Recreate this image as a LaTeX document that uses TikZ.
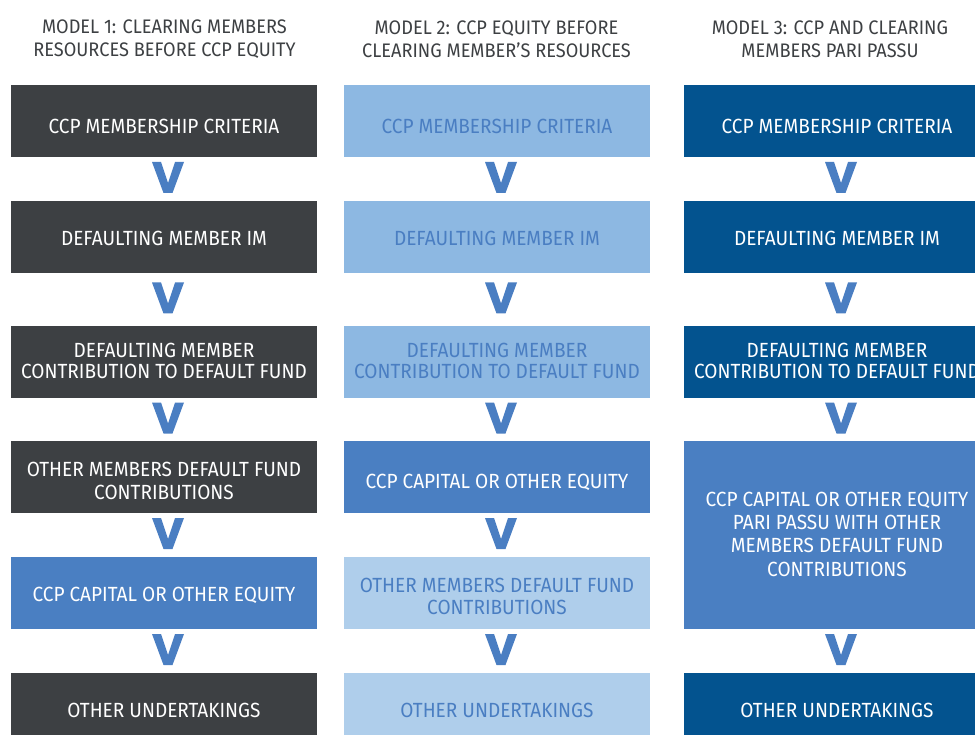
\documentclass[tikz,border=0pt]{standalone}
\usepackage{fontspec}
\setmainfont{Fira Sans}[FakeStretch=0.928]
\usetikzlibrary{calc}
\definecolor{darkgrey}{HTML}{3D4043}
\definecolor{lightblue}{HTML}{8DB8E2}
\definecolor{paleblue}{HTML}{AFCEEB}
\definecolor{midblue}{HTML}{4A7FC2}
\definecolor{navyblue}{HTML}{03538F}
\definecolor{veeblue}{HTML}{4A7EC2}
\tikzset{
  box/.style={minimum width=306pt, minimum height=72pt, inner sep=0pt},
  boxdark/.style={box, fill=darkgrey},
  boxlight/.style={box, fill=lightblue},
  boxpale/.style={box, fill=paleblue},
  boxmid/.style={box, fill=midblue},
  boxnavy/.style={box, fill=navyblue},
  txt/.style={align=center, inner sep=0pt, font=\fontsize{20.5}{21.5}\selectfont},
  wtxt/.style={txt, text=white},
  btxt/.style={txt, text=veeblue},
  header/.style={align=center, text=darkgrey, inner sep=0pt,
     font=\fontsize{19.6}{23}\selectfont},
  vee/.pic={\fill[veeblue] (-16,-15.5) -- (-7,-15.5) -- (0,5.5) -- (7,-15.5) -- (16,-15.5) -- (4.5,15.5) -- (-4.5,15.5) -- cycle;}
}
\begin{document}
\begin{tikzpicture}[x=1pt,y=-1pt]
\useasboundingbox (0,0) rectangle (975,735);
\fill[white] (0,0) rectangle (975,735);
% headers
\node[header] (h1) at (164.5,39) {MODEL 1: CLEARING MEMBERS\\RESOURCES BEFORE CCP EQUITY};
\node[header] (h2) at (496.5,39) {MODEL 2: CCP EQUITY BEFORE\\CLEARING MEMBER'S RESOURCES};
\node[header] (h3) at (830,39) {MODEL 3: CCP AND CLEARING\\MEMBERS PARI PASSU};
% column 1
\node[boxdark] (a1) at (164,121) {};
\node[boxdark] (a2) at (164,237) {};
\node[boxdark] (a3) at (164,362) {};
\node[boxdark] (a4) at (164,477) {};
\node[boxmid]  (a5) at (164,593) {};
\node[boxdark] (a6) at (164,709) {};
\node[wtxt] (a1t) at ([yshift=-5.5pt]a1.center) {CCP MEMBERSHIP CRITERIA};
\node[wtxt] (a2t) at ([yshift=-1pt]a2.center) {DEFAULTING MEMBER IM};
\node[wtxt] (a3t) at ([yshift=1pt]a3.center) {DEFAULTING MEMBER\\CONTRIBUTION TO DEFAULT FUND};
\node[wtxt, font=\fontsize{20.5}{23}\selectfont] (a4t) at ([yshift=-3.5pt]a4.center) {OTHER MEMBERS DEFAULT FUND\\CONTRIBUTIONS};
\node[wtxt] (a5t) at ([yshift=-2pt]a5.center) {CCP CAPITAL OR OTHER EQUITY};
\node[wtxt] (a6t) at ([yshift=-1pt]a6.center) {OTHER UNDERTAKINGS};
% column 2
\node[boxlight] (b1) at (497,121) {};
\node[boxlight] (b2) at (497,237) {};
\node[boxlight] (b3) at (497,362) {};
\node[boxmid]   (b4) at (497,477) {};
\node[boxpale]  (b5) at (497,593) {};
\node[boxpale]  (b6) at (497,709) {};
\node[btxt] (b1t) at ([yshift=-5.5pt]b1.center) {CCP MEMBERSHIP CRITERIA};
\node[btxt] (b2t) at ([yshift=-1pt]b2.center) {DEFAULTING MEMBER IM};
\node[btxt] (b3t) at ([yshift=1pt]b3.center) {DEFAULTING MEMBER\\CONTRIBUTION TO DEFAULT FUND};
\node[wtxt] (b4t) at ([yshift=-5.5pt]b4.center) {CCP CAPITAL OR OTHER EQUITY};
\node[btxt] (b5t) at ([yshift=-3.5pt]b5.center) {OTHER MEMBERS DEFAULT FUND\\CONTRIBUTIONS};
\node[btxt] (b6t) at ([yshift=-1pt]b6.center) {OTHER UNDERTAKINGS};
% column 3
\node[boxnavy] (c1) at (837,121) {};
\node[boxnavy] (c2) at (837,237) {};
\node[boxnavy] (c3) at (837,362) {};
\node[boxmid, minimum height=188pt] (c4) at (837,535) {};
\node[boxnavy] (c6) at (837,709) {};
\node[wtxt] (c1t) at ([yshift=-5.5pt]c1.center) {CCP MEMBERSHIP CRITERIA};
\node[wtxt] (c2t) at ([yshift=-1pt]c2.center) {DEFAULTING MEMBER IM};
\node[wtxt] (c3t) at ([yshift=1pt]c3.center) {DEFAULTING MEMBER\\CONTRIBUTION TO DEFAULT FUND};
\node[wtxt, font=\fontsize{20.5}{23.3}\selectfont] (c4t) at ([yshift=1pt]c4.center) {CCP CAPITAL OR OTHER EQUITY\\PARI PASSU WITH OTHER\\MEMBERS DEFAULT FUND\\CONTRIBUTIONS};
\node[wtxt] (c6t) at ([yshift=-1pt]c6.center) {OTHER UNDERTAKINGS};
% chevrons
\foreach \p/\q in {a1/a2,a2/a3,a3/a4,a4/a5,a5/a6,b1/b2,b2/b3,b3/b4,b4/b5,b5/b6,c1/c2,c2/c3,c3/c4,c4/c6}{
  \pic at ($(\p.south)!0.5!(\q.north)+(4,-1.5)$) {vee};
}
\end{tikzpicture}
\end{document}
